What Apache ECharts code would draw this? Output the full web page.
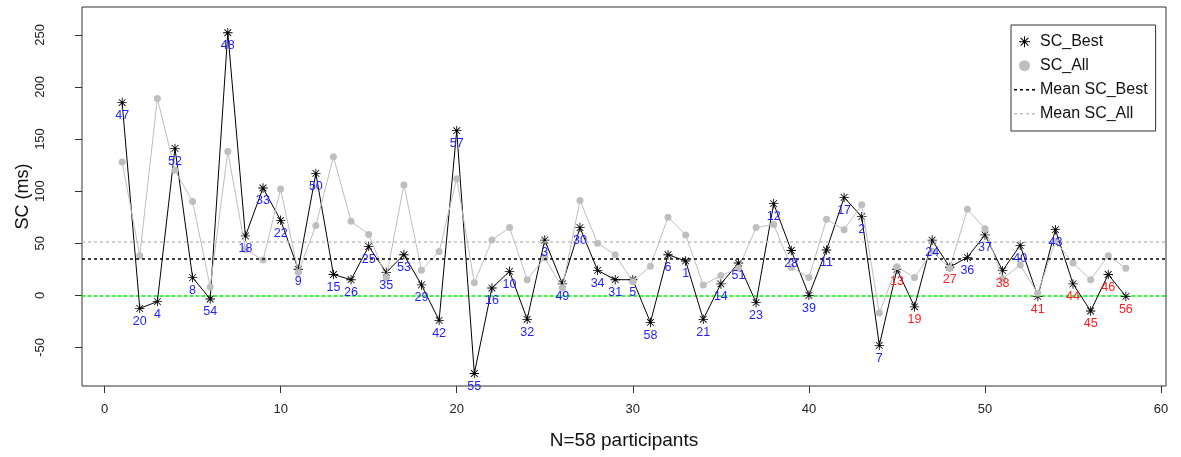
<!DOCTYPE html>
<html>
<head>
<meta charset="utf-8">
<script src="https://cdn.jsdelivr.net/npm/echarts@6/dist/echarts.min.js"></script>
<style>
html,body{margin:0;padding:0;background:#fff;}
#chart{width:1181px;height:457px;}
</style>
</head>
<body>
<div id="chart"></div>
<script>
// ---- data ----
const participantIds = [47,20,4,52,8,54,48,18,33,22,9,50,15,26,25,35,53,29,42,57,55,16,10,32,3,49,30,34,31,5,58,6,1,21,14,51,23,12,28,39,11,17,2,7,13,19,24,27,36,37,38,40,41,43,44,45,46,56];
const scBest = [185,-12.5,-6,141,17,-3.5,252,57,103,72,25,117,20,15,47,22,39,10,-24,158,-75,7,23,-23,53,11,65,24,15,15,-26,39,33,-23,11,31,-7,88,43,0,43.5,94,75.5,-48,25,-11,53,27,36.5,58,23.7,48,-1,63,11,-15,20,-1];
const scAll = [128,38,189,120,90,8,138,44,34,102,22,67,133,71,58.5,17,106,24,42,112,12,53,65,15,36,7,91,50,39,13,28,75,58,10,19,26,65,68,27,17,73,63,87,-17,27.5,17,42,26,82.5,64,16,29,2,52,31,15,38,26];
const redIds = [13,19,27,38,41,44,45,46,56];
const meanBest = 35.2;
const meanAll = 51.2;
const xTicks = [0,10,20,30,40,50,60];
const yTicks = [-50,0,50,100,150,200,250];
const legendNames = ['SC_Best','SC_All','Mean SC_Best','Mean SC_All'];

// ---- styling ----
const FONT = 'Liberation Sans, Arial, Helvetica, sans-serif';
const ASTERISK = 'path://M-1,-0.09L1,-0.09L1,0.09L-1,0.09Z M-0.09,-1L0.09,-1L0.09,1L-0.09,1Z M-0.7707,-0.6434L-0.6434,-0.7707L0.7707,0.6434L0.6434,0.7707Z M-0.6434,0.7707L-0.7707,0.6434L0.6434,-0.7707L0.7707,-0.6434Z';
const DASHES = 'path://M0,0h3v1.4h-3z M6,0h3v1.4h-3z M12,0h3v1.4h-3z M18,0h3v1.4h-3z';
const GRAY = '#bebebe';
const GREEN = '#00ee00';
const BLUE = '#1e1eff';
const RED = '#ff1e1e';
const X_MIN = -1.28, X_MAX = 60.28, Y_MIN = -87, Y_MAX = 276.7;
const REF_W = 1.5;

const bestData = scBest.map((v, i) => [i + 1, v]);
const allData = scAll.map((v, i) => [i + 1, v]);
const labelData = scBest.map((v, i) => ({
  value: [i + 1, v],
  label: { color: redIds.includes(participantIds[i]) ? RED : BLUE }
}));

function meanLine(name, value, color) {
  return {
    name: name, type: 'line', data: [], color: color, z: 1,
    itemStyle: { color: color },
    lineStyle: { color: color },
    markLine: {
      silent: true, symbol: 'none', label: { show: false },
      lineStyle: { color: color, type: [3, 3], width: REF_W },
      data: [{ yAxis: value }]
    }
  };
}

const chart = echarts.init(document.getElementById('chart'), null, { renderer: 'canvas' });
chart.setOption({
  animation: false,
  backgroundColor: '#fff',
  textStyle: { fontFamily: FONT },
  grid: {
    left: 82, top: 7, width: 1084, height: 379,
    show: true, borderColor: '#333', borderWidth: 1,
    containLabel: false, outerBoundsMode: 'none'
  },
  legend: {
    orient: 'vertical',
    left: 1011, top: 25,
    padding: [8.7, 8, 9.3, 3],
    borderColor: '#333', borderWidth: 1,
    itemWidth: 21, itemHeight: 11, itemGap: 8,
    selectedMode: false,
    textStyle: { fontSize: 16, lineHeight: 16, color: '#111', fontFamily: FONT },
    data: [
      { name: legendNames[0], icon: ASTERISK },
      { name: legendNames[1], icon: 'circle' },
      { name: legendNames[2], icon: DASHES },
      { name: legendNames[3], icon: DASHES }
    ]
  },
  xAxis: [
    {
      type: 'value', min: X_MIN, max: X_MAX, position: 'bottom',
      name: 'N=58 participants', nameLocation: 'middle', nameGap: 45, nameMoveOverlap: false,
      nameTextStyle: { fontSize: 19, color: '#111', fontFamily: FONT },
      splitLine: { show: false },
      axisLine: { show: false, onZero: false },
      axisTick: { show: true, length: 7, customValues: xTicks, lineStyle: { color: '#333' } },
      axisLabel: { customValues: xTicks, fontSize: 13, color: '#222', margin: 17, fontFamily: FONT }
    },
    {
      // horizontal reference line at SC = 0 (green dotted)
      type: 'value', min: X_MIN, max: X_MAX, position: 'top', z: 1,
      splitLine: { show: false },
      axisLine: { show: true, onZero: true, lineStyle: { color: GREEN, type: [3, 3], width: REF_W } },
      axisTick: { show: false },
      axisLabel: { show: false }
    }
  ],
  yAxis: {
    type: 'value', min: Y_MIN, max: Y_MAX,
    name: 'SC (ms)', nameLocation: 'middle', nameGap: 50, nameMoveOverlap: false,
    nameTextStyle: { fontSize: 18, color: '#111', fontFamily: FONT },
    splitLine: { show: false },
    axisLine: { show: false, onZero: false },
    axisTick: { show: true, length: 7, customValues: yTicks, lineStyle: { color: '#333' } },
    axisLabel: { customValues: yTicks, rotate: 90, fontSize: 13, color: '#222', margin: 35, fontFamily: FONT }
  },
  series: [
    meanLine(legendNames[2], meanBest, '#000'),
    meanLine(legendNames[3], meanAll, GRAY),
    {
      name: legendNames[0], type: 'line', data: bestData, z: 3,
      color: '#000',
      symbol: ASTERISK, symbolSize: 9.5, showAllSymbol: true,
      itemStyle: { color: '#000' },
      lineStyle: { color: '#000', width: 1 }
    },
    {
      name: legendNames[1], type: 'line', data: allData, z: 4,
      color: GRAY,
      symbol: 'circle', symbolSize: 7, showAllSymbol: true,
      itemStyle: { color: GRAY },
      lineStyle: { color: GRAY, width: 1 }
    },
    {
      name: 'ids', type: 'scatter', data: labelData, z: 5,
      symbol: 'circle', symbolSize: 9.5,
      itemStyle: { color: 'rgba(0,0,0,0)' },
      label: {
        show: true, position: 'bottom', distance: 1.5,
        fontSize: 12.5, fontFamily: FONT, opacity: 1, textBorderWidth: 0,
        formatter: p => String(participantIds[p.dataIndex])
      }
    }
  ]
});
</script>
</body>
</html>
